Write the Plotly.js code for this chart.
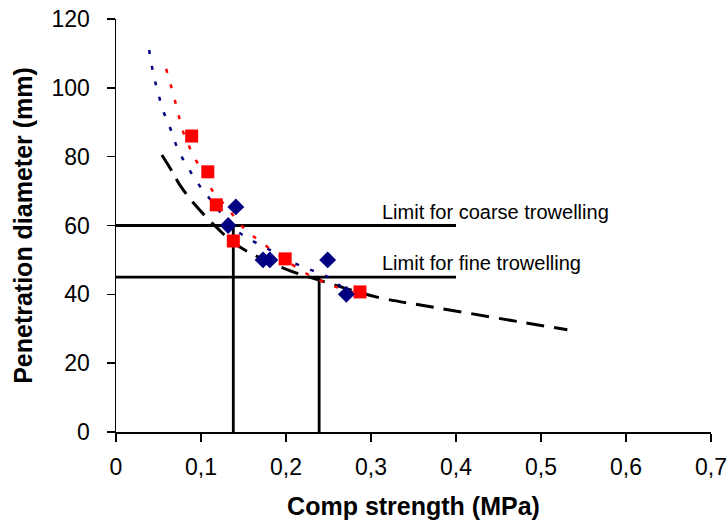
<!DOCTYPE html>
<html>
<head>
<meta charset="utf-8">
<script src="https://cdn.plot.ly/plotly-3.0.1.min.js"></script>
<style>html,body{margin:0;padding:0;background:#fff;}#chart{width:728px;height:528px;}</style>
</head>
<body>
<div id="chart"></div>
<script>
// Measured points
const blueX = [0.141, 0.132, 0.173, 0.181, 0.249, 0.271];
const blueY = [65.4, 60.0, 50.0, 50.0, 50.0, 40.0];
const redX = [0.089, 0.108, 0.118, 0.138, 0.199, 0.287];
const redY = [86.0, 75.6, 66.0, 55.5, 50.3, 40.7];

// Trend lines
const blueTrendX = [0.039, 0.044, 0.049, 0.056, 0.065, 0.073, 0.085, 0.100, 0.118, 0.136, 0.161, 0.186, 0.207, 0.229, 0.252, 0.270];
const blueTrendY = [111, 104, 99, 93, 87.5, 82, 76.7, 71, 65.4, 59.6, 55.5, 52.3, 49.4, 47.1, 44.7, 41];
const redTrendX = [0.059, 0.067, 0.073, 0.079, 0.089, 0.101, 0.113, 0.132, 0.149, 0.172, 0.215, 0.236, 0.259, 0.280];
const redTrendY = [105.5, 98.5, 92.7, 87.2, 81.4, 75.8, 70.3, 64.8, 59.6, 54.9, 47.4, 44.5, 42.1, 40.5];
const blackTrendX = [0.054, 0.067, 0.075, 0.093, 0.119, 0.142, 0.199, 0.238, 0.307, 0.358, 0.413, 0.475, 0.531];
const blackTrendY = [80.5, 75.3, 71.8, 66, 59.3, 54.3, 47.4, 44.2, 39.2, 36.9, 34.6, 32, 29.7];

// Limits
const coarseLimit = 60;
const fineLimit = 45;
const limitLineX = [0, 0.4];
const coarseStrength = 0.138;
const fineStrength = 0.239;
const limitLabels = ["Limit for coarse trowelling", "Limit for fine trowelling"];

const xTicks = [0, 0.1, 0.2, 0.3, 0.4, 0.5, 0.6, 0.7];
const yTicks = [0, 20, 40, 60, 80, 100, 120];

const limStyle = {color: '#000', width: 2.8};
const traces = [
  {x: limitLineX, y: [coarseLimit, coarseLimit], mode: 'lines', line: limStyle, hoverinfo: 'skip'},
  {x: limitLineX, y: [fineLimit, fineLimit], mode: 'lines', line: limStyle, hoverinfo: 'skip'},
  {x: [coarseStrength, coarseStrength], y: [0, coarseLimit], mode: 'lines', line: limStyle, hoverinfo: 'skip'},
  {x: [fineStrength, fineStrength], y: [0, fineLimit], mode: 'lines', line: limStyle, hoverinfo: 'skip'},
  {x: blackTrendX, y: blackTrendY, mode: 'lines', line: {color: '#000', width: 3, dash: '18px,10px', shape: 'spline'}},
  {x: blueTrendX, y: blueTrendY, mode: 'lines', line: {color: '#000080', width: 2.5, dash: '4px,12px', shape: 'spline'}},
  {x: redTrendX, y: redTrendY, mode: 'lines', line: {color: '#FF0000', width: 2.5, dash: '4px,12px', shape: 'spline'}},
  {x: redX, y: redY, mode: 'markers', marker: {symbol: 'square', size: 13, color: '#FF0000'}},
  {x: blueX, y: blueY, mode: 'markers', marker: {symbol: 'diamond', size: 13, color: '#000080'}}
];

const layout = {
  width: 728, height: 528,
  margin: {l: 116, r: 17, t: 19, b: 96},
  paper_bgcolor: '#fff', plot_bgcolor: '#fff',
  showlegend: false,
  separators: ', ',
  font: {family: 'Liberation Sans, Arial, sans-serif', color: '#000'},
  xaxis: {
    range: [0, 0.7], tickvals: xTicks, showgrid: false, zeroline: false,
    showline: true, linecolor: '#000', linewidth: 1.5,
    ticks: 'outside', ticklen: 8, tickwidth: 1.5, tickcolor: '#000',
    tickfont: {size: 23}, ticklabelstandoff: 6,
    title: {text: '<b>Comp strength (MPa)</b>', font: {size: 25}, standoff: 18}
  },
  yaxis: {
    range: [0, 120], tickvals: yTicks, showgrid: false, zeroline: false,
    showline: true, linecolor: '#000', linewidth: 1.5,
    ticks: 'outside', ticklen: 8, tickwidth: 1.5, tickcolor: '#000',
    tickfont: {size: 23}, ticklabelstandoff: 12,
    title: {text: '<b>Penetration diameter (mm)</b>', font: {size: 25}, standoff: 12}
  },
  annotations: [
    {x: 0.311, y: 64, xref: 'x', yref: 'y', text: limitLabels[0], showarrow: false, xanchor: 'left', yanchor: 'middle', font: {size: 20}},
    {x: 0.311, y: 49, xref: 'x', yref: 'y', text: limitLabels[1], showarrow: false, xanchor: 'left', yanchor: 'middle', font: {size: 20}}
  ]
};

Plotly.newPlot('chart', traces, layout, {staticPlot: true});
</script>
</body>
</html>
